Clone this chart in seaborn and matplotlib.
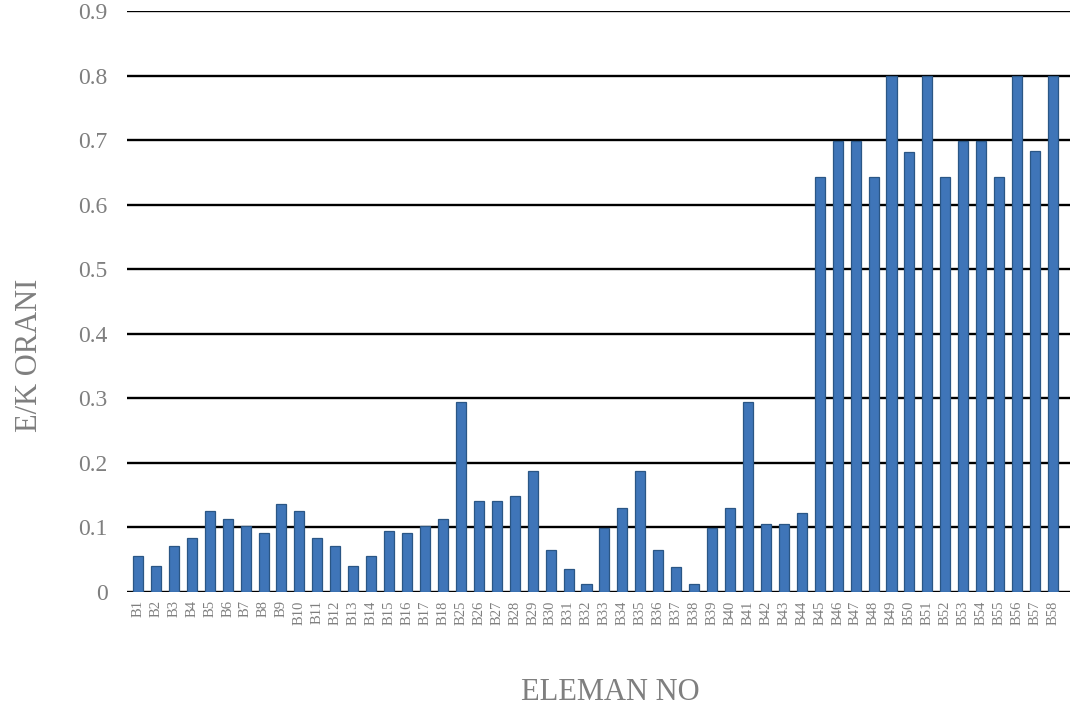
"""Bar chart of E/K ratio per element (ELEMAN NO)."""

import matplotlib
matplotlib.use("Agg")
import matplotlib.pyplot as plt
import pandas as pd
import seaborn as sns

# element labels (B19-B24 are not in the chart)
ELEMENTS = [f"B{i}" for i in range(1, 19)] + [f"B{i}" for i in range(25, 59)]

EK_RATIO = [
    0.056, 0.041, 0.072, 0.084, 0.125, 0.113, 0.102, 0.091, 0.137, 0.125,
    0.084, 0.072, 0.040, 0.056, 0.094, 0.091, 0.102, 0.113,
    0.294, 0.141, 0.141, 0.148, 0.188, 0.065, 0.036, 0.013, 0.099, 0.130,
    0.188, 0.065, 0.038, 0.013, 0.099, 0.130, 0.294, 0.105, 0.105, 0.122,
    0.643, 0.698, 0.698, 0.643, 0.800, 0.682, 0.800, 0.643, 0.698, 0.698,
    0.643, 0.800, 0.683, 0.800,
]

Y_TICKS = [0, 0.1, 0.2, 0.3, 0.4, 0.5, 0.6, 0.7, 0.8, 0.9]
Y_TICK_LABELS = ["0", "0.1", "0.2", "0.3", "0.4", "0.5", "0.6", "0.7", "0.8", "0.9"]

sns.set_style("white")
plt.rcParams["font.family"] = ["Liberation Serif", "DejaVu Serif"]

df = pd.DataFrame({"eleman": ELEMENTS, "ek": EK_RATIO})

fig = plt.figure(figsize=(10.76, 7.15), dpi=100)
ax = fig.add_axes([127 / 1076, 1 - 592 / 715, (1070 - 127) / 1076, (592 - 11) / 715])

sns.barplot(data=df, x="eleman", y="ek", color="#3F75B8", width=0.56,
            edgecolor="#2A5685", linewidth=0.9, saturation=1, ax=ax, zorder=3)

ax.set_xlim(-0.61, 51.95)
ax.set_ylim(0, 0.9)
ax.set_yticks(Y_TICKS)
ax.set_yticklabels(Y_TICK_LABELS)
ax.yaxis.grid(True, color="black", linewidth=1.7, zorder=1)
ax.set_axisbelow(True)
for side in ["top", "right", "left", "bottom"]:
    ax.spines[side].set_visible(False)
ax.tick_params(axis="y", length=0, pad=14, labelsize=17, labelcolor="#7F7F7F")
ax.tick_params(axis="x", length=0, pad=6, labelsize=10.5, labelcolor="#7F7F7F",
               labelrotation=90)

ax.set_xlabel("")
ax.set_ylabel("")
fig.text(30 / 1076, 1 - 355 / 715, "E/K ORANI", fontsize=22, color="#7F7F7F",
         rotation=90, ha="center", va="center")
fig.text(610 / 1076, 1 - 692 / 715, "ELEMAN NO", fontsize=22, color="#7F7F7F",
         ha="center", va="center")

fig.savefig("out.png", dpi=100)
